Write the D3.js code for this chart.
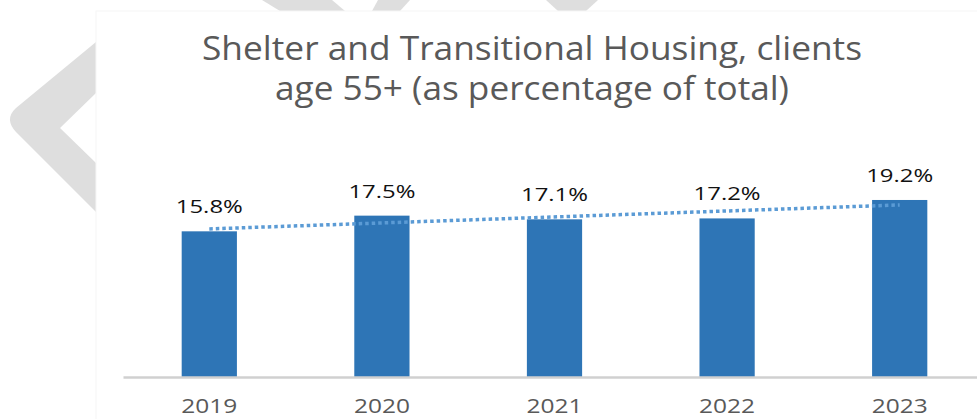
<!DOCTYPE html>
<html>
<head>
<meta charset="utf-8">
<script src="https://cdn.jsdelivr.net/npm/d3@7"></script>
<style>
  html, body { margin: 0; padding: 0; background: #ffffff; }
  svg { display: block; }
</style>
</head>
<body>
<svg id="chart" width="977" height="419"></svg>
<script>
// ---- data ----
const years = ["2019", "2020", "2021", "2022", "2023"];
const shares = [15.8, 17.5, 17.1, 17.2, 19.2];
const titleLines = ["Shelter and Transitional Housing, clients", "age 55+ (as percentage of total)"];
const yDomain = [0, 20];

const W = 977, H = 419;
const svg = d3.select("#chart");

// ---- light grey backdrop motif behind the card ----
const motif = "#dedede";
svg.append("path")
  .attr("d", "M96,42 L16,108 Q4,119 16,132 L96,212 L96,163 L60,128 L96,93 Z")
  .attr("fill", motif);
svg.append("path").attr("d", "M262,0 L332,0 L345,11 L280,11 Z").attr("fill", motif);
svg.append("path").attr("d", "M378,0 L410,0 L400,11 L372,11 Z").attr("fill", motif);
svg.append("path").attr("d", "M546,0 L598,0 L586,11 L558,11 Z").attr("fill", motif);

// ---- white card ----
svg.append("rect")
  .attr("x", 96).attr("y", 11)
  .attr("width", W).attr("height", H)
  .attr("fill", "#ffffff")
  .attr("stroke", "#f6f6f6");

// ---- title ----
const title = svg.append("g")
  .attr("font-family", "'Open Sans', sans-serif")
  .attr("fill", "#595959")
  .attr("font-size", 32);
title.selectAll("text")
  .data(titleLines)
  .join("text")
  .attr("x", 532)
  .attr("y", (d, i) => 60 + i * 40)
  .attr("text-anchor", "middle")
  .attr("textLength", (d, i) => i === 0 ? 660 : 514)
  .attr("lengthAdjust", "spacingAndGlyphs")
  .text(d => d);

// ---- scales ----
const plot = { left: 123, right: 986, top: 192.6, bottom: 377 };
const x = d3.scaleBand()
  .domain(years)
  .range([plot.left, plot.right])
  .paddingInner(0.68)
  .paddingOuter(0.34);
const y = d3.scaleLinear().domain(yDomain).range([plot.bottom, plot.top]);

// ---- bars ----
svg.append("g")
  .selectAll("rect")
  .data(years)
  .join("rect")
  .attr("x", d => x(d))
  .attr("width", x.bandwidth())
  .attr("y", (d, i) => y(shares[i]))
  .attr("height", (d, i) => y(0) - y(shares[i]))
  .attr("fill", "#2e75b6");

// ---- category axis ----
const xAxis = svg.append("g")
  .attr("transform", `translate(0,${plot.bottom})`)
  .call(d3.axisBottom(x).tickSize(0).tickPadding(0));
xAxis.select(".domain")
  .attr("stroke", "#d0d0d0")
  .attr("stroke-width", 2.5);
xAxis.selectAll(".tick text")
  .attr("y", 36)
  .attr("dy", 0)
  .attr("font-family", "'Open Sans', sans-serif")
  .attr("font-size", 20)
  .attr("fill", "#595959")
  .attr("textLength", 56)
  .attr("lengthAdjust", "spacingAndGlyphs");

// ---- linear trendline (least squares over category index) ----
const n = shares.length;
const mx = d3.mean(d3.range(n));
const my = d3.mean(shares);
const slope = d3.sum(shares, (v, i) => (i - mx) * (v - my)) / d3.sum(d3.range(n), i => (i - mx) ** 2);
const fit = i => my + slope * (i - mx);
const cx = d => x(d) + x.bandwidth() / 2;
svg.append("line")
  .attr("x1", cx(years[0]))
  .attr("x2", cx(years[n - 1]))
  .attr("y1", y(fit(0)))
  .attr("y2", y(fit(n - 1)))
  .attr("stroke", "#5b9bd5")
  .attr("stroke-width", 3.5)
  .attr("stroke-dasharray", "3.5 3");

// ---- value labels ----
svg.append("g")
  .selectAll("text")
  .data(years)
  .join("text")
  .attr("x", d => cx(d))
  .attr("y", (d, i) => y(shares[i]) - 18)
  .attr("text-anchor", "middle")
  .attr("font-family", "'Open Sans', sans-serif")
  .attr("font-size", 19)
  .attr("fill", "#111111")
  .attr("textLength", 67)
  .attr("lengthAdjust", "spacingAndGlyphs")
  .text((d, i) => shares[i].toFixed(1) + "%");
</script>
</body>
</html>
